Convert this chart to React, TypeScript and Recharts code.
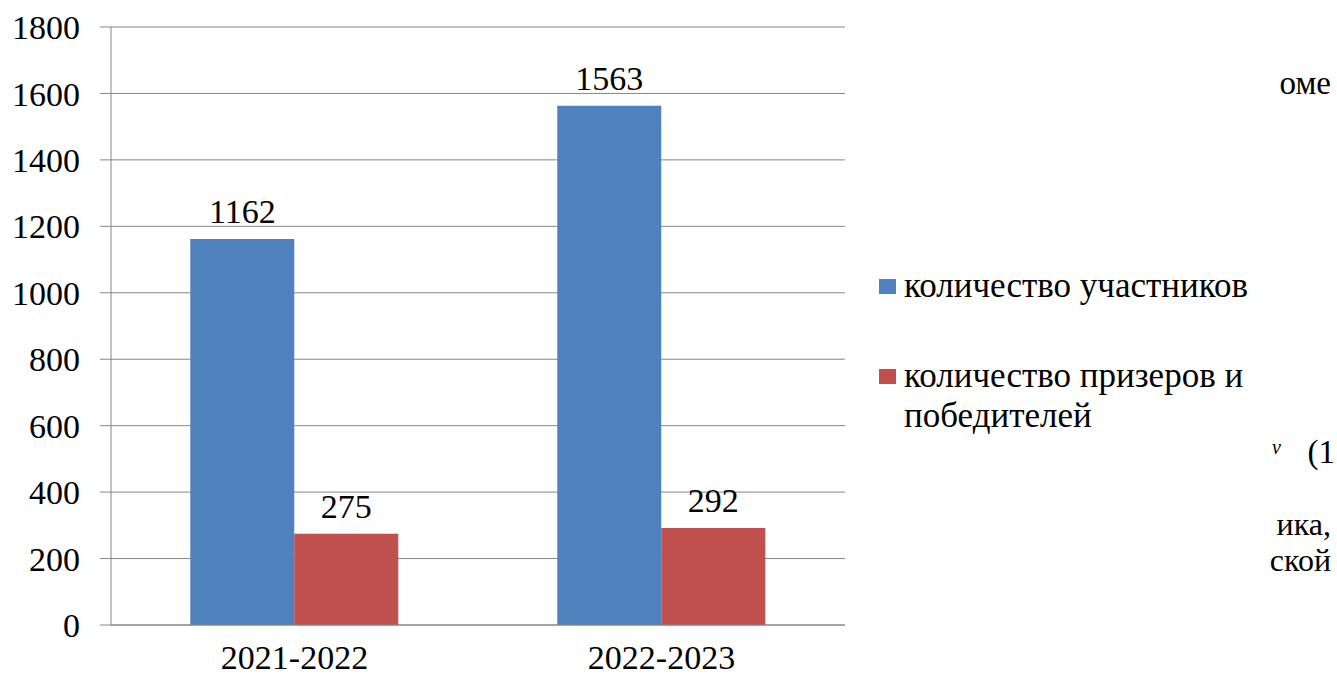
import React from "react";
import { BarChart, Bar, XAxis, YAxis, CartesianGrid, Legend, LabelList } from "recharts";

const years = ["2021-2022", "2022-2023"];
const participants = [1162, 1563];
const winners = [275, 292];
const yTicks = [0, 200, 400, 600, 800, 1000, 1200, 1400, 1600, 1800];
const edgeTicks = [0, 1, 2];

const seriesNames = ["количество участников", "количество призеров и победителей"];
const seriesColors = ["#4F81BD", "#C0504D"];

// fragments of the surrounding document text visible at the right edge
const strayText = [
  { text: "оме", right: 6, top: 64, size: 33, italic: false },
  { text: "v", right: 56, top: 428, size: 20, italic: true },
  { text: "(1", right: 2, top: 433, size: 33, italic: false },
  { text: "ика,", right: 6, top: 505, size: 32, italic: false },
  { text: "ской", right: 6, top: 541, size: 32, italic: false },
];

const FONT = "Liberation Serif";
const GRID = "#868686";

const data = years.map((y, i) => ({ year: y, participants: participants[i], winners: winners[i] }));

function LegendBox() {
  return (
    <div style={{ fontFamily: FONT, fontSize: 35, color: "#000", lineHeight: "40px" }}>
      {seriesNames.map((name, i) => (
        <div key={name} style={{ display: "flex", alignItems: "flex-start", marginBottom: i === 0 ? 50 : 0 }}>
          <span style={{ display: "inline-block", width: 17, height: 15, background: seriesColors[i], marginTop: 13, marginRight: 8, flex: "none" }} />
          <span style={{ width: 370 }}>{name}</span>
        </div>
      ))}
    </div>
  );
}

export default function App() {
  return (
    <div style={{ position: "absolute", left: 0, top: 0, width: 1337, height: 679, background: "#fff", overflow: "hidden", fontFamily: FONT }}>
      <BarChart width={1337} height={679} data={data} margin={{ top: 27, right: 492, bottom: 0, left: 0 }} barCategoryGap="21.6%" barGap={0}>
        <CartesianGrid vertical={false} stroke={GRID} strokeWidth={1} />
        <XAxis xAxisId="edges" type="number" domain={[0, 2]} ticks={edgeTicks} tick={false} tickSize={11} tickLine={{ stroke: GRID }} axisLine={false} height={0} />
        <XAxis dataKey="year" tickLine={false} tickSize={0} tickMargin={20} axisLine={{ stroke: GRID }} height={54} tick={{ fill: "#000", fontSize: 34, fontFamily: FONT }} />
        <YAxis domain={[0, 1800]} ticks={yTicks} width={111} tickSize={11} tickMargin={20} tickLine={{ stroke: GRID }} axisLine={{ stroke: GRID }} tick={{ fill: "#000", fontSize: 34, fontFamily: FONT }} />
        <Legend layout="vertical" align="center" verticalAlign="middle" wrapperStyle={{ left: 879, top: 266, width: 440 }} content={() => <LegendBox />} />
        <Bar dataKey="participants" name={seriesNames[0]} fill={seriesColors[0]} isAnimationActive={false}>
          <LabelList dataKey="participants" position="top" offset={16} fill="#000" fontSize={34} fontFamily={FONT} />
        </Bar>
        <Bar dataKey="winners" name={seriesNames[1]} fill={seriesColors[1]} isAnimationActive={false}>
          <LabelList dataKey="winners" position="top" offset={16} fill="#000" fontSize={34} fontFamily={FONT} />
        </Bar>
      </BarChart>
      {strayText.map((s) => (
        <span
          key={s.text}
          style={{
            position: "absolute",
            right: s.right,
            top: s.top,
            fontFamily: FONT,
            fontSize: s.size,
            fontStyle: s.italic ? "italic" : "normal",
            lineHeight: "38px",
            color: "#000",
            whiteSpace: "nowrap",
          }}
        >
          {s.text}
        </span>
      ))}
    </div>
  );
}
